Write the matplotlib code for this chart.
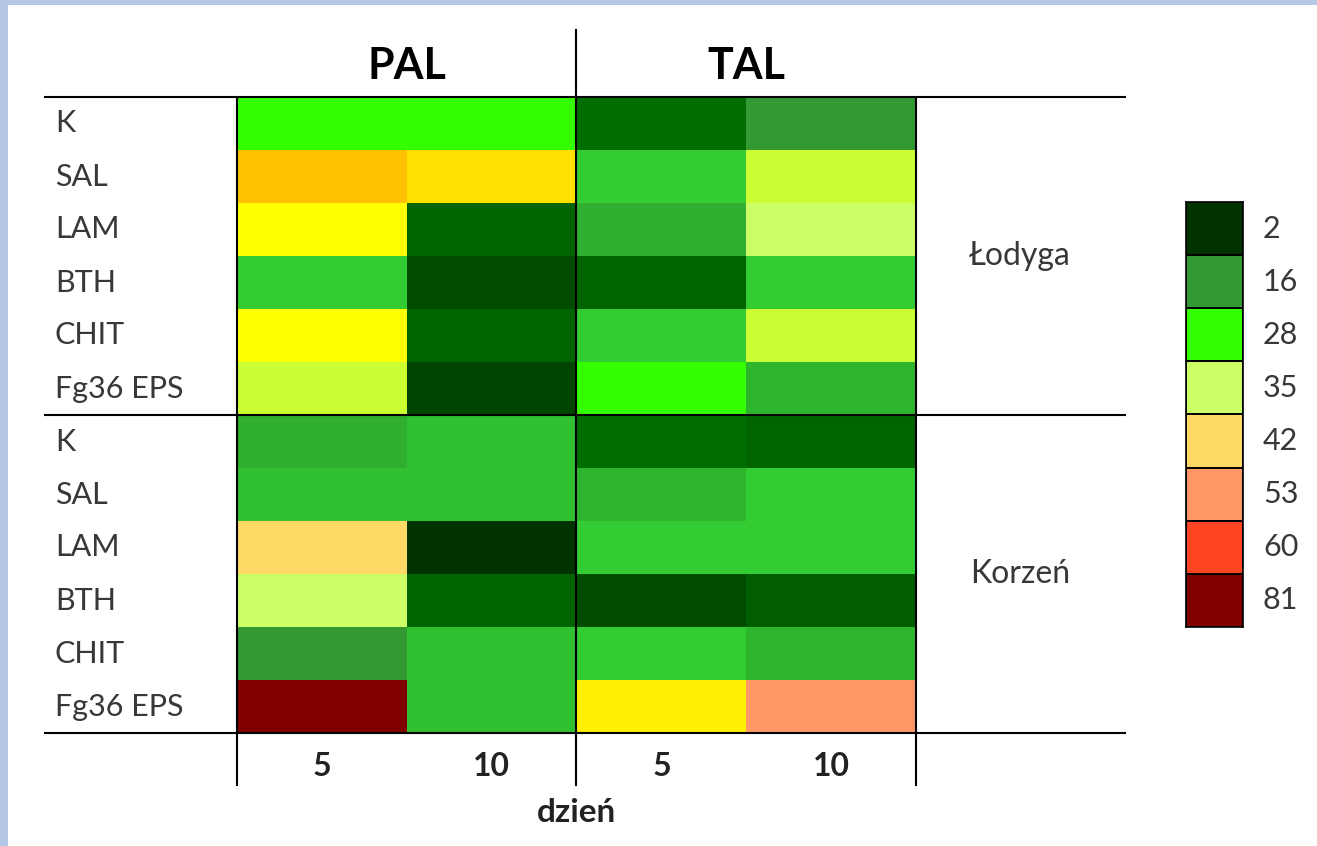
import numpy as np
import matplotlib
matplotlib.use('Agg')
import matplotlib.pyplot as plt
from matplotlib.colors import LinearSegmentedColormap, Normalize
from matplotlib.patches import Rectangle

plt.rcParams['font.family'] = ['Lato', 'DejaVu Sans']

groups = ['PAL', 'TAL']
days = ['5', '10', '5', '10']
treatments = ['K', 'SAL', 'LAM', 'BTH', 'CHIT', 'Fg36 EPS']
organs = ['Łodyga', 'Korzeń']

# columns: PAL 5, PAL 10, TAL 5, TAL 10
lodyga = [[28, 28, 10, 16],
          [39, 38, 22, 33],
          [37, 9, 19, 35],
          [22, 6, 9, 22],
          [37, 9, 22, 33],
          [33, 5, 28, 20]]
korzen = [[19, 21, 10, 9],
          [21, 21, 20, 22],
          [42, 2, 22, 22],
          [35, 9, 6, 8],
          [16, 21, 22, 20],
          [81, 21, 37.5, 53]]

legend_vals = [2, 16, 28, 35, 42, 53, 60, 81]

# colour scale nodes
nodes = [2, 6, 10, 16, 20, 22, 28, 33, 35, 37, 39, 42, 53, 60, 81]
node_cols = ['#003300', '#004D00', '#006E00', '#339933', '#2EB52E', '#33CC33',
             '#33FF00', '#CCFF33', '#CCFF66', '#FFFF00', '#FFC000', '#FFD966',
             '#FF9966', '#FF4422', '#800000']
vmin, vmax = 2, 81
cmap = LinearSegmentedColormap.from_list(
    'scale', [((v - vmin) / (vmax - vmin), c) for v, c in zip(nodes, node_cols)], N=1024)
norm = Normalize(vmin, vmax)

W, H = 1317, 846
fig = plt.figure(figsize=(W / 100, H / 100), dpi=100, facecolor='white')
# light blue frame on the left and top
fig.patches.append(Rectangle((0, 0), 8 / W, 1, transform=fig.transFigure,
                             facecolor='#B4C7E7', edgecolor='none'))
fig.patches.append(Rectangle((0, (H - 5) / H), 1, 5 / H, transform=fig.transFigure,
                             facecolor='#B4C7E7', edgecolor='none'))

# heatmap
x0, x1, y0, y1 = 237, 916, 97, 733
ax = fig.add_axes([x0 / W, (H - y1) / H, (x1 - x0) / W, (y1 - y0) / H])
data = np.array(lodyga + korzen, dtype=float)
ax.pcolormesh(np.arange(5), np.arange(13), data, cmap=cmap, norm=norm)
ax.set_xlim(0, 4)
ax.set_ylim(12, 0)
ax.axis('off')

colw = (x1 - x0) / 4
rowh = (y1 - y0) / 12
left = (45 - x0) / colw
right = (1125 - x0) / colw
lo = (785 - y0) / rowh
lw = 1.5
for yy in [0, 6, 12]:
    ax.plot([left, right], [yy, yy], color='black', lw=lw, clip_on=False)
ax.plot([0, 0], [0, lo], color='black', lw=lw, clip_on=False)
ax.plot([4, 4], [0, lo], color='black', lw=lw, clip_on=False)
ax.plot([2, 2], [(30 - y0) / rowh, lo], color='black', lw=lw, clip_on=False)

for i, g in enumerate(groups):
    ax.text(2 * i + 1, (66 - y0) / rowh, g, ha='center', va='center',
            fontsize=31, fontweight='bold', color='black')

labels = treatments + treatments
for r, lab in enumerate(labels):
    ax.text((55 - x0) / colw, r + 0.5, lab, ha='left', va='center',
            fontsize=22, color='#383838')

for k, org in enumerate(organs):
    ax.text((1020 - x0) / colw, 6 * k + 3, org, ha='center', va='center',
            fontsize=23, color='#383838')

for c, d in enumerate(days):
    ax.text(c + 0.5, (766 - y0) / rowh, d, ha='center', va='center',
            fontsize=23, fontweight='bold', color='#222222')
ax.text(2, (812 - y0) / rowh, 'dzień', ha='center', va='center',
        fontsize=24, fontweight='bold', color='#222222')

# legend
lx0, lx1, ly0, ly1 = 1186, 1243, 202, 627
lax = fig.add_axes([lx0 / W, (H - ly1) / H, (lx1 - lx0) / W, (ly1 - ly0) / H])
n = len(legend_vals)
lax.pcolormesh(np.arange(2), np.arange(n + 1), np.array(legend_vals, dtype=float)[:, None],
               cmap=cmap, norm=norm, edgecolors='black', linewidth=1.2)
lax.set_xlim(0, 1)
lax.set_ylim(n, 0)
lax.set_xticks([])
lax.set_yticks([])
for s in lax.spines.values():
    s.set_linewidth(1.2)
for i, v in enumerate(legend_vals):
    lax.text(1 + (1263 - lx1) / (lx1 - lx0), i + 0.5, str(v), ha='left', va='center',
             fontsize=22, color='#383838')

fig.savefig('out.png', dpi=100, facecolor=fig.get_facecolor())
